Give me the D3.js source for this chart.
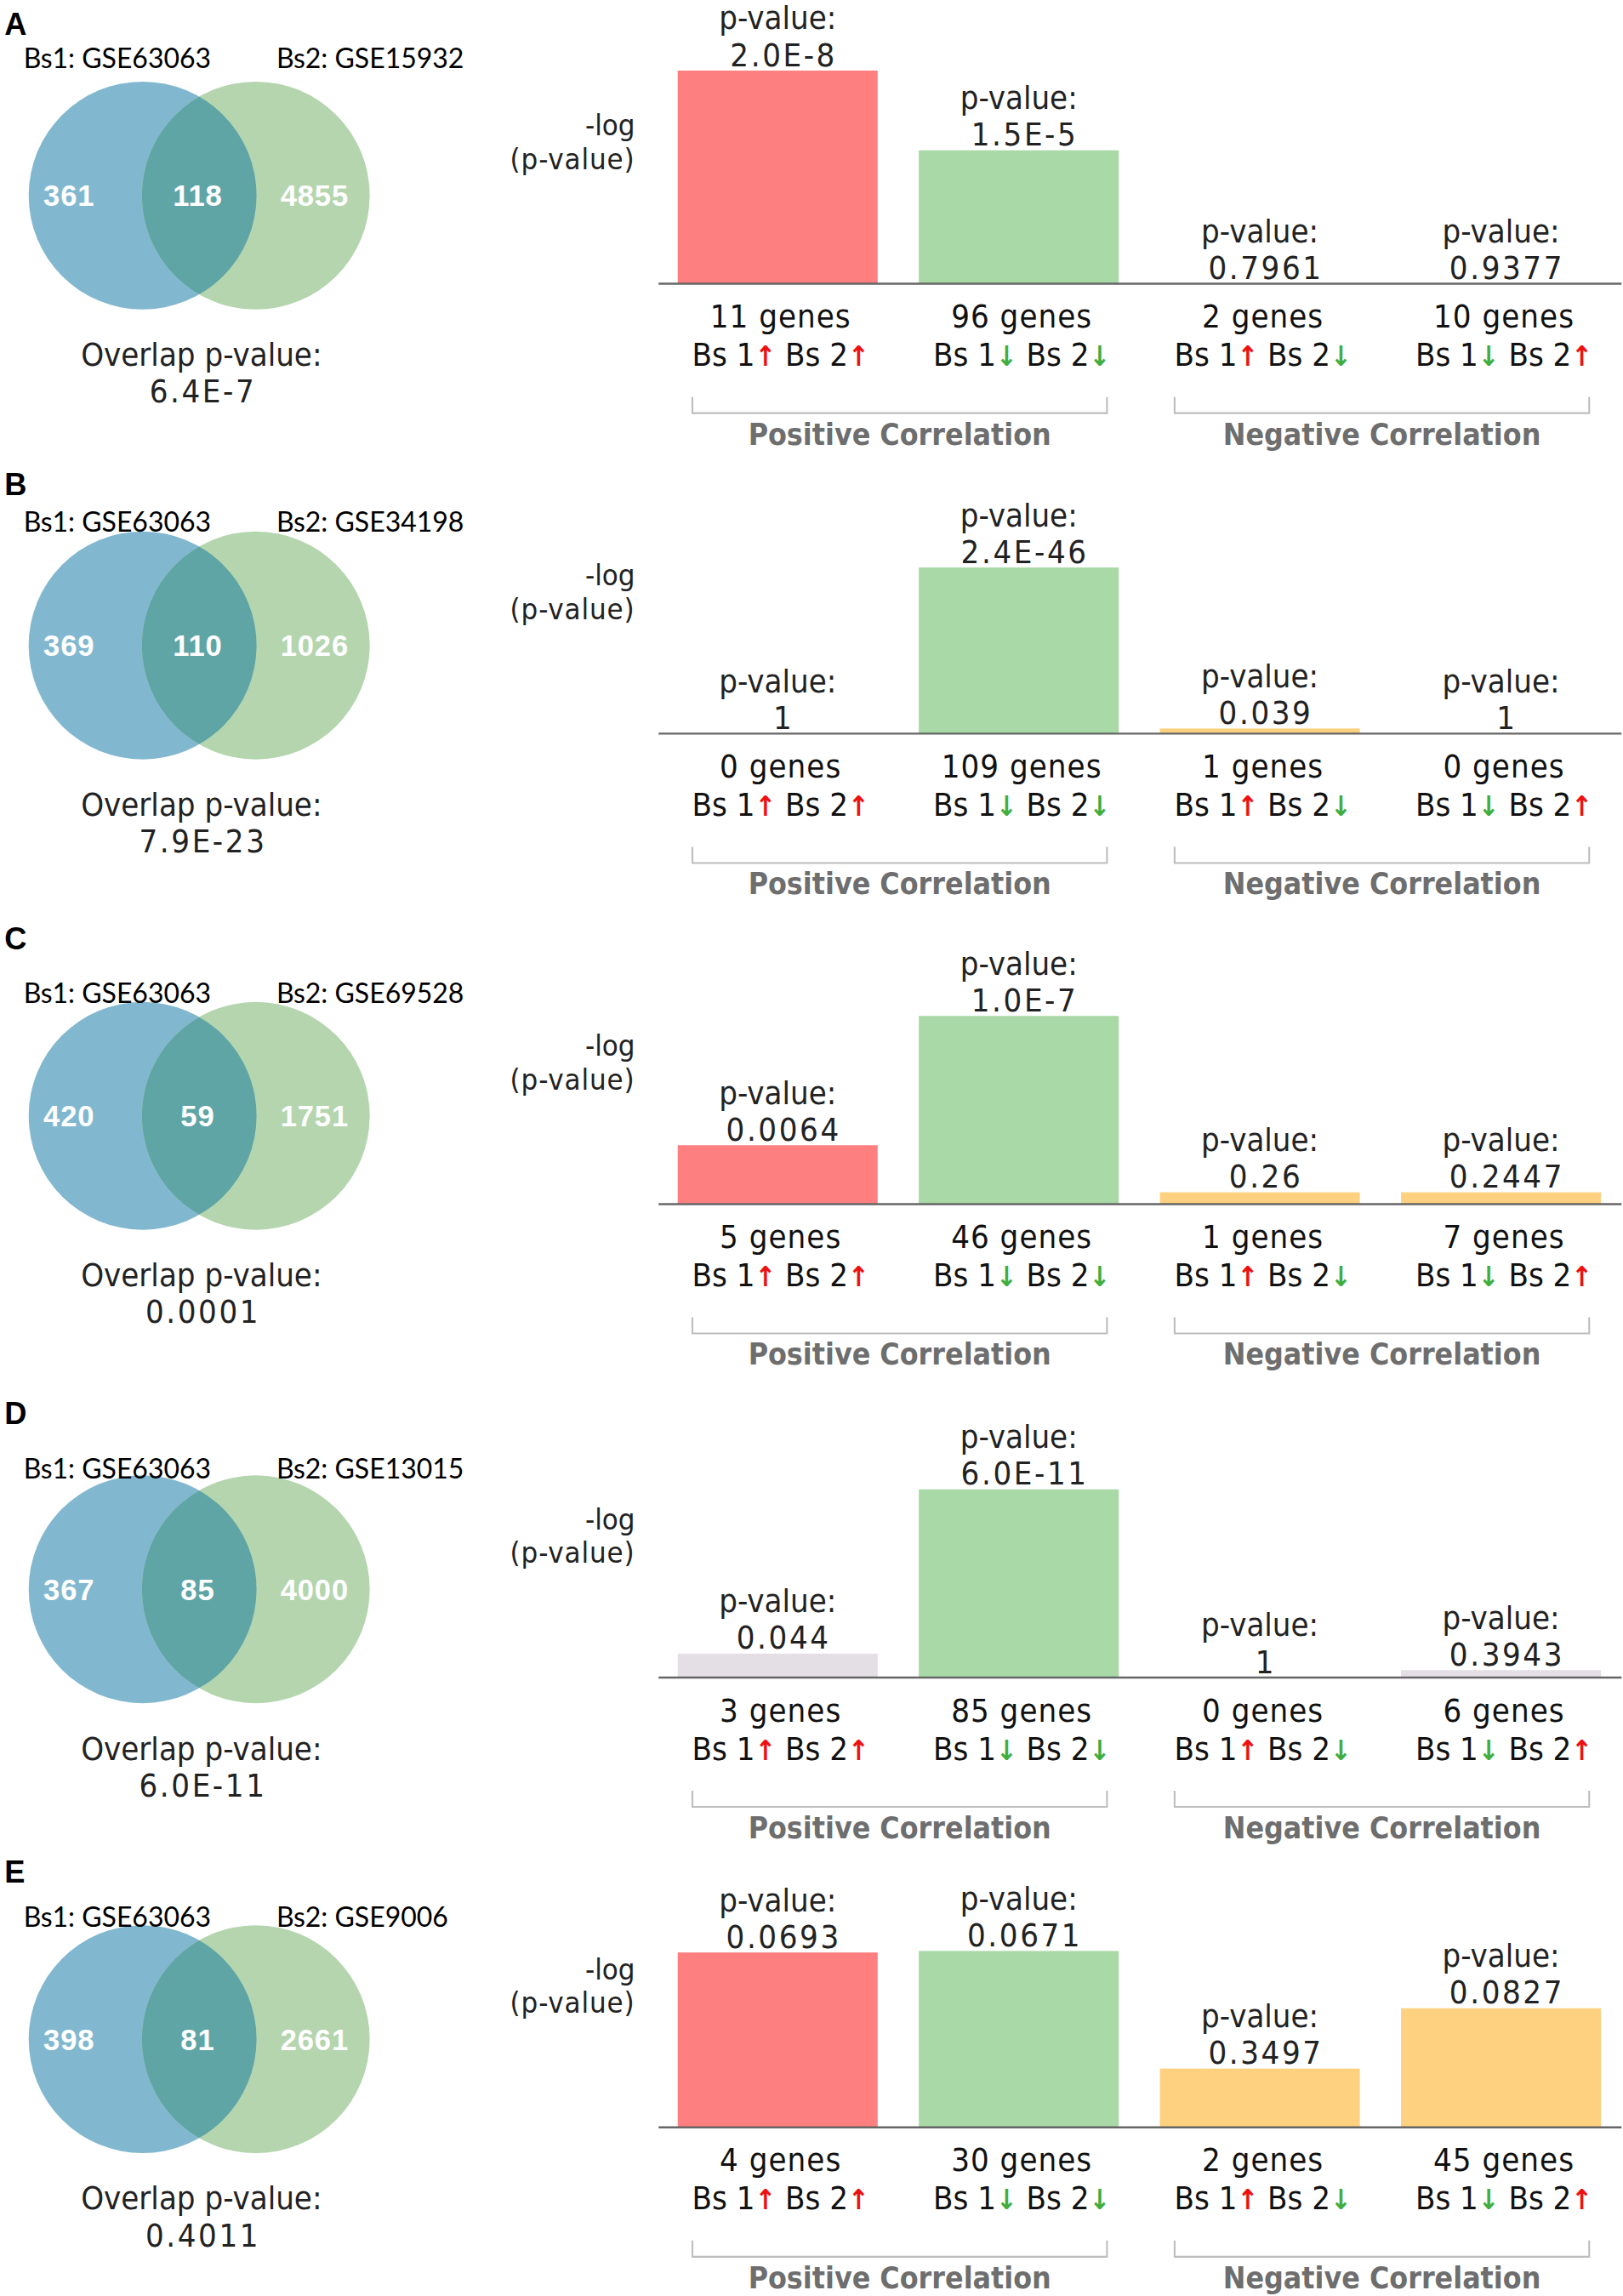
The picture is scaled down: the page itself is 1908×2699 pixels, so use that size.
<!DOCTYPE html>
<html>
<head>
<meta charset="utf-8">
<script src="https://cdn.jsdelivr.net/npm/d3@7"></script>
<style>
  html, body { margin: 0; padding: 0; background: #fff; }
  svg { display: block; }
</style>
</head>
<body>
<div id="chart"></div>
<script>
// panel data
var panelLetters = ["A", "B", "C", "D", "E"];
var bs1Labels = ["GSE63063", "GSE63063", "GSE63063", "GSE63063", "GSE63063"];
var bs2Labels = ["GSE15932", "GSE34198", "GSE69528", "GSE13015", "GSE9006"];
var vennCounts = [
    [361, 118, 4855],
    [369, 110, 1026],
    [420, 59, 1751],
    [367, 85, 4000],
    [398, 81, 2661]
];
var overlapP = ["6.4E-7", "7.9E-23", "0.0001", "6.0E-11", "0.4011"];

// bar categories: direction of Bs1 / Bs2
var categories = ["upup", "downdown", "updown", "downup"];
var arrows = [["↑", "↑"], ["↓", "↓"], ["↑", "↓"], ["↓", "↑"]];
var geneCounts = [
    [11, 96, 2, 10],
    [0, 109, 1, 0],
    [5, 46, 1, 7],
    [3, 85, 0, 6],
    [4, 30, 2, 45]
];
var pLabels = [
    ["2.0E-8", "1.5E-5", "0.7961", "0.9377"],
    ["1", "2.4E-46", "0.039", "1"],
    ["0.0064", "1.0E-7", "0.26", "0.2447"],
    ["0.044", "6.0E-11", "1", "0.3943"],
    ["0.0693", "0.0671", "0.3497", "0.0827"]
];
// -log(p) as drawn
var negLogP = [
    [7.70, 4.82, 0, 0],
    [0, 45.6, 1.41, 0],
    [2.19, 7.0, 0.44, 0.44],
    [1.30, 10.22, 0, 0.40],
    [1.16, 1.17, 0.39, 0.79]
];
var barColorKeys = [
    ["red", "green", "orange", "orange"],
    ["red", "green", "orange", "orange"],
    ["red", "green", "orange", "orange"],
    ["gray", "green", "gray", "gray"],
    ["red", "green", "orange", "orange"]
];
var groupLabels = ["Positive Correlation", "Negative Correlation"];

// layout (in reference units, scaled up to the page below)
var letterY = [16, 329, 638, 961, 1273];
var bsY = [40, 355, 676, 999, 1304];
var vennY = [133, 439, 759, 1081, 1387];
var barTopY = [48, 386, 691, 1013, 1327];

var colors = { red: "#fe7f7f", green: "#a9d9a6", orange: "#fdd17f", gray: "#e3dfe4" };

var W = 1104, H = 1104 * 2699 / 1908;
var chartFont = "'DejaVu Sans Condensed', 'DejaVu Sans', sans-serif";

var svg = d3.select("#chart").append("svg")
    .attr("width", 1908)
    .attr("height", 2699)
    .attr("viewBox", "0 0 " + W + " " + H);

var x = d3.scaleBand().domain(d3.range(4)).range([447, 1103])
    .paddingInner(28 / 164).paddingOuter(14 / 164);

var clipLens = svg.append("defs");

panelLetters.forEach(function (letter, i) {
    var g = svg.append("g");
    var cy = vennY[i];
    var base = cy + 60;

    g.append("text")
        .attr("x", 3).attr("y", letterY[i]).attr("dy", "0.36em")
        .style("font-family", "'Liberation Sans', Arial, sans-serif")
        .style("font-weight", "bold").style("font-size", "21px")
        .text(letter);

    // venn
    var c1 = 97, c2 = 174, r = 77.5;
    g.append("circle").attr("cx", c1).attr("cy", cy).attr("r", r).attr("fill", "#82b8cf");
    g.append("circle").attr("cx", c2).attr("cy", cy).attr("r", r).attr("fill", "#b4d5ae");
    clipLens.append("clipPath").attr("id", "lens" + i)
        .append("circle").attr("cx", c1).attr("cy", cy).attr("r", r);
    g.append("circle").attr("cx", c2).attr("cy", cy).attr("r", r)
        .attr("fill", "#5fa5a6").attr("clip-path", "url(#lens" + i + ")");

    g.append("text").attr("x", 16).attr("y", bsY[i]).attr("dy", "0.35em")
        .style("font-family", "Lato, 'Open Sans', sans-serif").style("font-size", "18.5px")
        .text("Bs1: " + bs1Labels[i]);
    g.append("text").attr("x", 188).attr("y", bsY[i]).attr("dy", "0.35em")
        .style("font-family", "Lato, 'Open Sans', sans-serif").style("font-size", "18.5px")
        .text("Bs2: " + bs2Labels[i]);

    var numX = [47, (c1 + c2) / 2 - 1, 214];
    g.selectAll(".venn-num").data(vennCounts[i]).enter().append("text")
        .attr("class", "venn-num")
        .attr("x", function (d, k) { return numX[k]; })
        .attr("y", cy).attr("dy", "0.36em")
        .attr("text-anchor", "middle")
        .attr("fill", "#fff")
        .style("font-family", "'Liberation Sans', Arial, sans-serif")
        .style("font-weight", "bold").style("font-size", "20px")
        .style("letter-spacing", "0.5px")
        .text(function (d) { return d; });

    g.append("text").attr("x", 137).attr("y", cy + 108).attr("dy", "0.36em")
        .attr("text-anchor", "middle")
        .style("font-family", chartFont).style("font-size", "22px").attr("fill", "#222")
        .text("Overlap p-value:");
    g.append("text").attr("x", 138).attr("y", cy + 133).attr("dy", "0.36em")
        .attr("text-anchor", "middle")
        .style("font-family", chartFont).style("font-size", "22px").attr("fill", "#222")
        .style("letter-spacing", "1.5px")
        .text(overlapP[i]);

    // bar chart
    var y = d3.scaleLinear()
        .domain([0, d3.max(negLogP[i])])
        .range([base, barTopY[i]]);

    g.append("text").attr("x", 432).attr("y", base - 108).attr("dy", "0.36em")
        .attr("text-anchor", "end")
        .style("font-family", chartFont).style("font-size", "20px").attr("fill", "#222")
        .text("-log");
    g.append("text").attr("x", 432).attr("y", base - 85).attr("dy", "0.36em")
        .attr("text-anchor", "end")
        .style("font-family", chartFont).style("font-size", "20px").attr("fill", "#222")
        .style("letter-spacing", "0.5px")
        .text("(p-value)");

    var bars = g.selectAll(".bar").data(categories).enter().append("g").attr("class", "bar");

    bars.append("rect")
        .attr("x", function (d, k) { return x(k); })
        .attr("y", function (d, k) { return y(negLogP[i][k]); })
        .attr("width", x.bandwidth())
        .attr("height", function (d, k) { return base - y(negLogP[i][k]); })
        .attr("fill", function (d, k) { return colors[barColorKeys[i][k]]; });

    bars.append("text")
        .attr("x", function (d, k) { return x(k) + x.bandwidth() / 2; })
        .attr("y", function (d, k) { return y(negLogP[i][k]) - 36; })
        .attr("dy", "0.36em").attr("text-anchor", "middle")
        .style("font-family", chartFont).style("font-size", "22px").attr("fill", "#222")
        .text("p-value:");
    bars.append("text")
        .attr("x", function (d, k) { return x(k) + x.bandwidth() / 2 + 4; })
        .attr("y", function (d, k) { return y(negLogP[i][k]) - 11; })
        .attr("dy", "0.36em").attr("text-anchor", "middle")
        .style("font-family", chartFont).style("font-size", "22px").attr("fill", "#222")
        .style("letter-spacing", "1.5px")
        .text(function (d, k) { return pLabels[i][k]; });

    g.append("line").attr("x1", 448).attr("x2", 1103).attr("y1", base).attr("y2", base)
        .attr("stroke", "#666").attr("stroke-width", 1.4);

    bars.append("text")
        .attr("x", function (d, k) { return x(k) + x.bandwidth() / 2 + 2; })
        .attr("y", base + 22).attr("dy", "0.36em").attr("text-anchor", "middle")
        .style("font-family", chartFont).style("font-size", "22px").attr("fill", "#111")
        .style("letter-spacing", "0.6px")
        .text(function (d, k) { return geneCounts[i][k] + " genes"; });

    var dirText = bars.append("text")
        .attr("x", function (d, k) { return x(k) + x.bandwidth() / 2 + 2; })
        .attr("y", base + 48).attr("dy", "0.36em").attr("text-anchor", "middle")
        .style("font-family", chartFont).style("font-size", "22px").attr("fill", "#111");
    dirText.append("tspan").text("Bs 1");
    dirText.append("tspan")
        .attr("fill", function (d, k) { return arrows[k][0] === "↑" ? "#ee1111" : "#3fae3f"; })
        .style("font-size", "19px").style("font-weight", "bold")
        .text(function (d, k) { return arrows[k][0]; });
    dirText.append("tspan").text(" Bs 2");
    dirText.append("tspan")
        .attr("fill", function (d, k) { return arrows[k][1] === "↑" ? "#ee1111" : "#3fae3f"; })
        .style("font-size", "19px").style("font-weight", "bold")
        .text(function (d, k) { return arrows[k][1]; });

    // correlation brackets
    groupLabels.forEach(function (lab, j) {
        var x0 = x(j * 2) + 10, x1 = x(j * 2 + 1) + x.bandwidth() - 8;
        var by = base + 88;
        g.append("path")
            .attr("d", "M" + x0 + "," + (by - 11) + "V" + by + "H" + x1 + "V" + (by - 11))
            .attr("fill", "none").attr("stroke", "#bdbdbd").attr("stroke-width", 1.2);
        g.append("text").attr("x", (x0 + x1) / 2).attr("y", by + 14).attr("dy", "0.36em")
            .attr("text-anchor", "middle")
            .style("font-family", chartFont).style("font-weight", "bold").style("font-size", "20.5px")
            .attr("fill", "#6e6e6e")
            .text(lab);
    });
});
</script>
</body>
</html>
